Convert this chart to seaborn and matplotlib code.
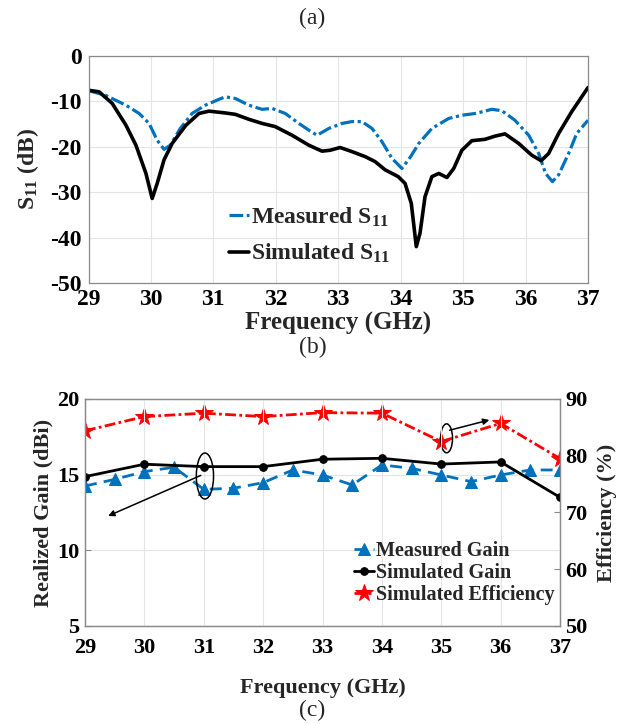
import numpy as np
import pandas as pd
import matplotlib
matplotlib.use("Agg")
import matplotlib.pyplot as plt
from matplotlib.patches import Ellipse
import seaborn as sns

# ---------------- (a) reflection coefficient ----------------
meas_freq = [29.0, 29.27, 29.6, 29.81, 29.97, 30.10, 30.21, 30.31, 30.47, 30.66,
             30.87, 31.09, 31.19, 31.35, 31.57, 31.78, 31.94, 32.15, 32.37, 32.53,
             32.66, 32.85, 33.06, 33.22, 33.38, 33.54, 33.70, 33.86, 34.02, 34.16,
             34.29, 34.50, 34.77, 34.98, 35.20, 35.46, 35.62, 35.83, 36.05, 36.21,
             36.32, 36.43, 36.53, 36.69, 36.82, 37.0]
meas_s11 = [-7.7, -8.7, -10.9, -12.7, -14.9, -18.6, -20.6, -19.7, -16.0, -12.7,
            -10.9, -9.6, -9.05, -9.4, -10.9, -11.8, -11.6, -12.7, -14.9, -16.4,
            -17.5, -16.0, -14.9, -14.5, -14.5, -16.0, -18.9, -22.6, -24.8, -22.2,
            -19.3, -16.0, -13.8, -13.1, -12.7, -11.8, -12.1, -14.2, -17.5, -21.5,
            -25.9, -27.7, -26.2, -21.5, -17.1, -14.2]

sim_freq = [29.0, 29.17, 29.38, 29.60, 29.76, 29.92, 30.02, 30.10, 30.21, 30.34,
            30.56, 30.77, 30.93, 31.19, 31.35, 31.57, 31.78, 31.99, 32.26, 32.53,
            32.74, 32.87, 33.03, 33.22, 33.43, 33.59, 33.75, 33.96, 34.07, 34.17,
            34.25, 34.31, 34.39, 34.50, 34.61, 34.74, 34.85, 34.98, 35.14, 35.35,
            35.51, 35.67, 35.89, 36.10, 36.25, 36.37, 36.53, 36.74, 37.0]
sim_s11 = [-7.6, -7.95, -10.5, -15.3, -19.7, -25.9, -31.4, -28.1, -22.9, -19.3,
           -15.3, -12.7, -12.2, -12.6, -12.9, -14.0, -14.9, -15.6, -17.5, -19.7,
           -21.0, -20.8, -20.2, -21.1, -22.2, -23.3, -25.1, -26.6, -28.1, -32.5,
           -42.0, -39.0, -31.0, -26.6, -25.9, -26.8, -24.8, -20.8, -18.7, -18.4,
           -17.7, -17.2, -19.3, -21.9, -23.1, -21.5, -17.1, -12.3, -7.0]

# ---------------- (b) gain and efficiency ----------------
gain_meas_freq = [29.0, 29.5, 30.0, 30.5, 31.0, 31.5, 32.0, 32.5, 33.0, 33.5,
                  34.0, 34.5, 35.0, 35.5, 36.0, 36.5, 37.0]
gain_meas = [14.25, 14.69, 15.20, 15.49, 14.03, 14.10, 14.47, 15.31, 14.98, 14.32,
             15.64, 15.42, 14.98, 14.54, 14.98, 15.31, 15.31]
sim_freq_int = [29, 30, 31, 32, 33, 34, 35, 36, 37]
gain_sim = [14.87, 15.69, 15.53, 15.53, 16.02, 16.08, 15.70, 15.84, 13.50]
eff_sim = [84.4, 86.9, 87.5, 86.9, 87.6, 87.5, 82.5, 85.7, 79.5]

freq_ticks = [29, 30, 31, 32, 33, 34, 35, 36, 37]
s11_ticks = [0, -10, -20, -30, -40, -50]
gain_ticks = [5, 10, 15, 20]
eff_ticks = [50, 60, 70, 80, 90]

BLUE = "#0072BD"
RED = "#FF0000"
SERIF = "Liberation Serif"

sns.set_theme(style="whitegrid")
plt.rcParams.update({
    "font.family": [SERIF, "DejaVu Serif"],
    "font.weight": "bold",
    "axes.labelweight": "bold",
    "axes.unicode_minus": False,
    "mathtext.fontset": "custom",
    "mathtext.rm": f"{SERIF}:bold",
    "mathtext.bf": f"{SERIF}:bold",
    "mathtext.it": f"{SERIF}:bold",
    "grid.color": "#e4e4e4",
    "grid.linewidth": 0.8,
    "axes.edgecolor": "#8a8a8a",
    "axes.linewidth": 0.9,
    "xtick.color": "#8a8a8a",
    "ytick.color": "#8a8a8a",
    "xtick.labelcolor": "black",
    "ytick.labelcolor": "black",
})

fig = plt.figure(figsize=(6.25, 7.24), dpi=100)

# ---- top axes: S11 ----
ax1 = fig.add_axes([0.1416, 0.6091, 0.7992, 0.3140])
df_meas = pd.DataFrame({"f": meas_freq, "s": meas_s11})
df_sim = pd.DataFrame({"f": sim_freq, "s": sim_s11})
sns.lineplot(data=df_meas, x="f", y="s", ax=ax1, color=BLUE, lw=2.3,
             estimator=None, sort=False, legend=False,
             label="Measured S$_{\\mathbf{11}}$")
ax1.lines[-1].set_dashes((4.3, 1.1, 1.0, 1.1))
sns.lineplot(data=df_sim, x="f", y="s", ax=ax1, color="black", lw=2.6,
             estimator=None, sort=False, legend=False,
             label="Simulated S$_{\\mathbf{11}}$")
ax1.set_xlim(29, 37)
ax1.set_ylim(-50, 0)
ax1.set_xticks(freq_ticks)
ax1.set_yticks(s11_ticks)
ax1.tick_params(axis="both", labelsize=17, direction="in", length=4, width=0.8)
ax1.tick_params(axis="x", pad=4)
ax1.tick_params(axis="y", pad=5)
ax1.set_xlabel("Frequency (GHz)", fontsize=18, va="center")
ax1.xaxis.set_label_coords(0.5, -0.18)
ax1.set_ylabel("S$_{\\mathbf{11}}$ (dB)", fontsize=17, va="center")
ax1.yaxis.set_label_coords(-0.122, 0.5)
for sp in ax1.spines.values():
    sp.set_visible(True)
ax1.legend(loc="center left", bbox_to_anchor=(0.262, 0.21), frameon=False,
           fontsize=17, handlelength=0.85, handletextpad=0.1,
           labelspacing=0.55, borderaxespad=0)

# ---- bottom axes: gain with efficiency on the right ----
ax2 = fig.add_axes([0.1360, 0.1354, 0.7600, 0.3135])
ax3 = ax2.twinx()
df_gm = pd.DataFrame({"f": gain_meas_freq, "g": gain_meas})
df_gs = pd.DataFrame({"f": sim_freq_int, "g": gain_sim, "e": eff_sim})

sns.lineplot(data=df_gm, x="f", y="g", ax=ax2, color=BLUE, lw=2.0,
             marker="^", markersize=8.5, markeredgecolor=BLUE,
             estimator=None, sort=False, legend=False, label="Measured Gain")
ax2.lines[-1].set_dashes((4.3, 2.6))
sns.lineplot(data=df_gs, x="f", y="g", ax=ax2, color="black", lw=2.0,
             marker="o", markersize=5.5, markeredgecolor="black",
             estimator=None, sort=False, legend=False, label="Simulated Gain")
sns.lineplot(data=df_gs, x="f", y="e", ax=ax3, color=RED, lw=2.0,
             marker="*", markersize=13, markeredgecolor=RED,
             estimator=None, sort=False, legend=False, label="Simulated Efficiency")
ax3.lines[-1].set_dashes((3.9, 1.2, 1.0, 1.2))

ax2.set_xlim(29, 37)
ax2.set_ylim(5, 20)
ax3.set_ylim(50, 90)
ax2.set_xticks(freq_ticks)
ax2.set_yticks(gain_ticks)
ax3.set_yticks(eff_ticks)
ax3.grid(False)
ax2.set_zorder(ax3.get_zorder() + 1)
ax2.patch.set_visible(False)
for a in (ax2, ax3):
    a.tick_params(axis="both", labelsize=16, direction="in", length=4, width=0.8)
    for sp in a.spines.values():
        sp.set_visible(True)
ax2.tick_params(axis="x", pad=9)
ax2.tick_params(axis="y", pad=4)
ax3.tick_params(axis="y", pad=4)

ax2.set_xlabel("Frequency (GHz)", fontsize=16, va="center")
ax2.xaxis.set_label_coords(0.5, -0.273)
ax2.set_ylabel("Realized Gain (dBi)", fontsize=16, va="center")
ax2.yaxis.set_label_coords(-0.088, 0.5)
ax3.set_ylabel("Efficiency (%)", fontsize=16, va="center", rotation=90)
ax3.yaxis.set_label_coords(1.099, 0.5)

# ellipse + arrow marking the gain curves (left axis)
ax2.add_patch(Ellipse((31.02, 14.91), 0.29, 3.04, fill=False, ec="black", lw=1.1, zorder=5))
ax2.annotate("", xy=(29.39, 12.27), xytext=(30.95, 14.95),
             arrowprops=dict(arrowstyle="-|>", color="black", lw=1.1,
                             mutation_scale=9, shrinkA=0, shrinkB=0))
# ellipse + arrow marking the efficiency curve (right axis)
ax3.add_patch(Ellipse((35.09, 83.07), 0.2, 5.1, fill=False, ec="black", lw=1.1, zorder=5))
ax3.annotate("", xy=(35.81, 86.3), xytext=(35.14, 84.5),
             arrowprops=dict(arrowstyle="-|>", color="black", lw=1.1,
                             mutation_scale=9, shrinkA=0, shrinkB=0))

h2, l2 = ax2.get_legend_handles_labels()
h3, l3 = ax3.get_legend_handles_labels()
ax2.legend(h2 + h3, l2 + l3, loc="center left", bbox_to_anchor=(0.55, 0.235),
           frameon=False, fontsize=14.5, handlelength=1.0, handletextpad=0.1,
           labelspacing=0.1, borderaxespad=0)

# panel captions
for y, txt in [(0.975, "(a)"), (0.5195, "(b)"), (0.019, "(c)")]:
    fig.text(0.5, y, txt, ha="center", va="center", fontsize=17,
             fontweight="normal", family=SERIF)

fig.savefig("out.png", dpi=100)
